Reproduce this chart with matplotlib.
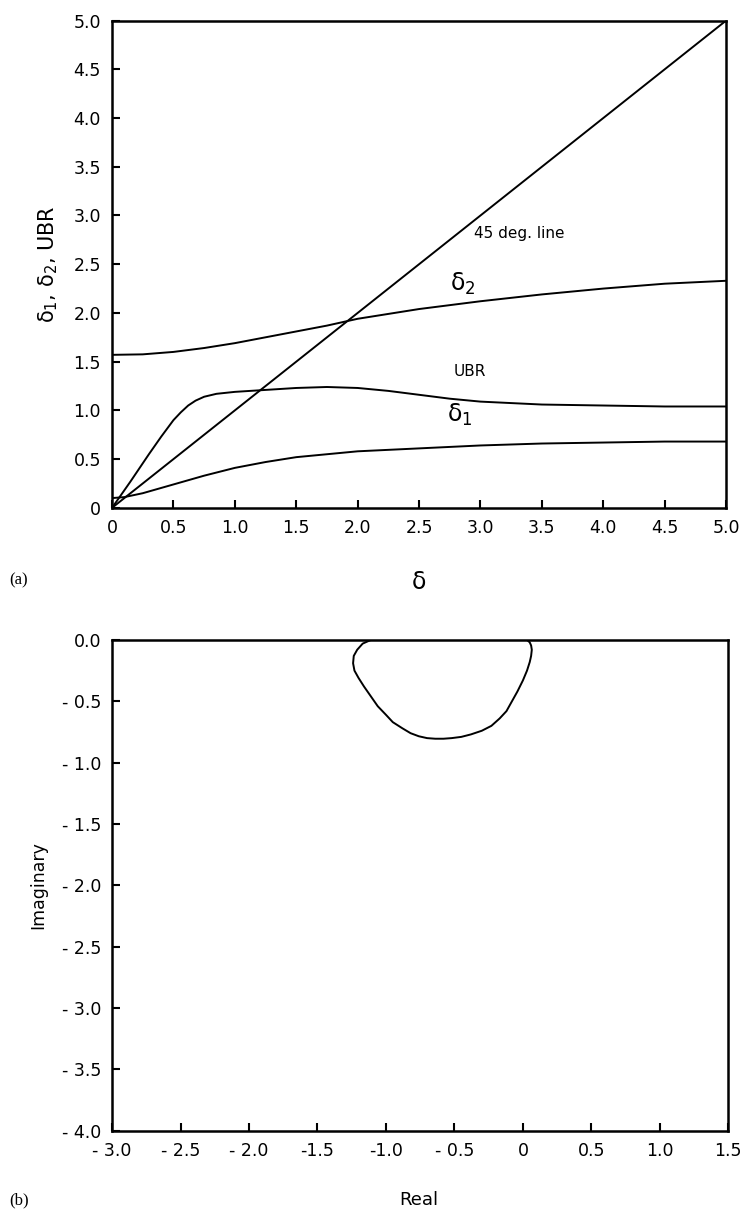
import matplotlib
matplotlib.use("Agg")
import matplotlib.pyplot as plt

plt.rcParams.update({
    "font.family": "DejaVu Sans",
    "font.size": 12,
    "axes.linewidth": 1.8,
    "xtick.direction": "in",
    "ytick.direction": "in",
    "xtick.major.size": 6,
    "ytick.major.size": 6,
    "xtick.major.width": 1.5,
    "ytick.major.width": 1.5,
    "mathtext.fontset": "dejavusans",
})

# ----- data (a): curves vs delta -----
line45_x = [0.0, 5.0]
line45_y = [0.0, 5.0]

d2_x = [0.0, 0.25, 0.5, 0.75, 1.0, 1.25, 1.5, 1.75, 2.0, 2.5, 3.0, 3.5, 4.0, 4.5, 5.0]
d2_y = [1.57, 1.575, 1.60, 1.64, 1.69, 1.75, 1.81, 1.87, 1.94, 2.04, 2.12, 2.19, 2.25, 2.30, 2.33]

ubr_x = [0.0, 0.15, 0.3, 0.4, 0.5, 0.56, 0.62, 0.68, 0.75, 0.85, 1.0, 1.25, 1.5, 1.75,
         2.0, 2.25, 2.5, 2.75, 3.0, 3.5, 4.0, 4.5, 5.0]
ubr_y = [0.0, 0.27, 0.55, 0.73, 0.90, 0.98, 1.05, 1.10, 1.14, 1.17, 1.19, 1.21, 1.23, 1.24,
         1.23, 1.20, 1.16, 1.12, 1.09, 1.06, 1.05, 1.04, 1.04]

d1_x = [0.0, 0.1, 0.25, 0.5, 0.75, 1.0, 1.25, 1.5, 2.0, 2.5, 3.0, 3.5, 4.0, 4.5, 5.0]
d1_y = [0.10, 0.11, 0.15, 0.24, 0.33, 0.41, 0.47, 0.52, 0.58, 0.61, 0.64, 0.66, 0.67, 0.68, 0.68]

top_ticks = [0, 0.5, 1.0, 1.5, 2.0, 2.5, 3.0, 3.5, 4.0, 4.5, 5.0]
top_ticklabels = ["0", "0.5", "1.0", "1.5", "2.0", "2.5", "3.0", "3.5", "4.0", "4.5", "5.0"]

# ----- data (b): root locus loop -----
loop_re = [-1.11, -1.17, -1.21, -1.235, -1.24, -1.23, -1.20, -1.16, -1.11, -1.06, -1.00,
           -0.95, -0.88, -0.82, -0.76, -0.70, -0.64, -0.58, -0.52, -0.45, -0.38, -0.30,
           -0.23, -0.17, -0.12, -0.08, -0.04, 0.00, 0.03, 0.05, 0.06, 0.065, 0.06, 0.05, 0.03]
loop_im = [0.0, -0.03, -0.08, -0.13, -0.19, -0.25, -0.31, -0.38, -0.46, -0.54, -0.61,
           -0.67, -0.72, -0.76, -0.785, -0.80, -0.805, -0.805, -0.80, -0.79, -0.77, -0.74,
           -0.70, -0.64, -0.58, -0.50, -0.42, -0.33, -0.25, -0.18, -0.13, -0.08, -0.045, -0.02, 0.0]

re_ticks = [-3.0, -2.5, -2.0, -1.5, -1.0, -0.5, 0.0, 0.5, 1.0, 1.5]
re_ticklabels = ["- 3.0", "- 2.5", "- 2.0", "-1.5", "-1.0", "- 0.5", "0", "0.5", "1.0", "1.5"]
im_ticks = [0.0, -0.5, -1.0, -1.5, -2.0, -2.5, -3.0, -3.5, -4.0]
im_ticklabels = ["0.0", "- 0.5", "- 1.0", "- 1.5", "- 2.0", "- 2.5", "- 3.0", "- 3.5", "- 4.0"]

fig = plt.figure(figsize=(7.47, 12.12), dpi=100)

# ================= (a) =================
ax1 = fig.add_axes([0.150, 0.581, 0.822, 0.402])
ax1.plot(line45_x, line45_y, color="black", lw=1.4)
ax1.plot(d2_x, d2_y, color="black", lw=1.4)
ax1.plot(ubr_x, ubr_y, color="black", lw=1.4)
ax1.plot(d1_x, d1_y, color="black", lw=1.4)
ax1.set_xlim(0, 5)
ax1.set_ylim(0, 5)
ax1.set_xticks(top_ticks)
ax1.set_xticklabels(top_ticklabels)
ax1.set_yticks(top_ticks)
ax1.set_yticklabels(top_ticklabels)
ax1.tick_params(top=False, right=False, pad=8, labelsize=12.5)

ax1.text(2.95, 2.82, "45 deg. line", fontsize=11, ha="left", va="center")
ax1.text(2.75, 2.30, "δ$_2$", fontsize=17, ha="left", va="center")
ax1.text(2.78, 1.40, "UBR", fontsize=11, ha="left", va="center")
ax1.text(2.73, 0.95, "δ$_1$", fontsize=17, ha="left", va="center")

ax1.set_ylabel("δ$_1$, δ$_2$, UBR", fontsize=15, labelpad=10)
fig.text(0.561, 1 - 582 / 1212, "δ", fontsize=17, ha="center", va="center")
fig.text(0.012, 1 - 580 / 1212, "(a)", fontsize=12, family="Liberation Serif",
         ha="left", va="center")

# ================= (b) =================
ax2 = fig.add_axes([0.150, 0.067, 0.825, 0.405])
ax2.plot(loop_re, loop_im, color="black", lw=1.4)
ax2.set_xlim(-3.0, 1.5)
ax2.set_ylim(-4.0, 0.0)
ax2.set_xticks(re_ticks)
ax2.set_xticklabels(re_ticklabels)
ax2.set_yticks(im_ticks)
ax2.set_yticklabels(im_ticklabels)
ax2.tick_params(top=False, right=False, pad=8, labelsize=12.5)

ax2.set_ylabel("Imaginary", fontsize=12.5, labelpad=10)
fig.text(0.561, 1 - 1200 / 1212, "Real", fontsize=13, ha="center", va="center")
fig.text(0.012, 1 - 1200 / 1212, "(b)", fontsize=12, family="Liberation Serif",
         ha="left", va="center")

fig.savefig("out.png", dpi=100, facecolor="white")
